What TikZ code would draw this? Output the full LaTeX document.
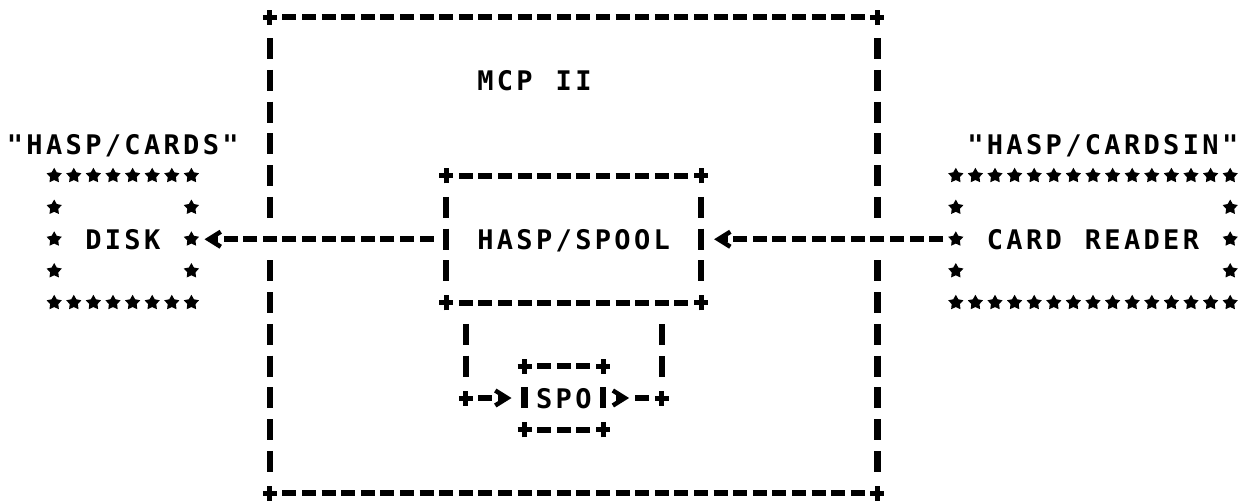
\documentclass[tikz,border=0pt]{standalone}
\usepackage{fontspec}
\usetikzlibrary{arrows.meta,calc}
\newfontfamily\lpfont{DejaVu Sans Mono}
\newcommand\spreadtxt[1]{\spreadloop#1\relax}
\def\spreadloop#1{\ifx\relax#1\else\makebox[19.6pt]{#1}\expandafter\spreadloop\fi}
% border of dashes and '!' marks with '+' corners, aligned to the character grid
\newcommand\dashborder[1]{%
  \draw[hdash] ([shift={(0.643,0)}]#1.north west) -- ([shift={(-0.643,0)}]#1.north east);
  \draw[hdash] ([shift={(0.643,0)}]#1.south west) -- ([shift={(-0.643,0)}]#1.south east);
  \draw[vdash] ([shift={(0,0.669)}]#1.north west) -- ([shift={(0,-0.669)}]#1.south west);
  \draw[vdash] ([shift={(0,0.669)}]#1.north east) -- ([shift={(0,-0.669)}]#1.south east);
  \foreach \c in {north west,north east,south west,south east} {\pic at (#1.\c) {plusmark};}
}
% border of stars: #2 = number of column steps, #3 = last inner row index
\newcommand\starborder[3]{%
  \foreach \i in {0,...,#2} {%
    \pic at ([shift={(\i,0)}]#1.north west) {starmark};
    \pic at ([shift={(\i,0)}]#1.south west) {starmark};}
  \foreach \j in {1,...,#3} {%
    \pic at ([shift={(0,\j)}]#1.north west) {starmark};
    \pic at ([shift={(0,\j)}]#1.north east) {starmark};}
}
\begin{document}
\begin{tikzpicture}[x=19.6pt, y=-31.75pt,
  hdash/.style={line width=6pt, dash pattern=on 14pt off 5.6pt},
  vdash/.style={line width=6.3pt, dash pattern=on 21pt off 10.75pt},
  txt/.style={inner sep=0pt, outer sep=0pt, text height=20pt, text depth=0pt,
    font=\lpfont\bfseries\fontsize{27pt}{27pt}\selectfont},
  chev/.style={-{Straight Barb[length=12pt,width=15pt,line width=4.5pt]}},
  plusmark/.pic={\draw[line width=5pt] (-7pt,0pt)--(7pt,0pt) (0pt,-7.5pt)--(0pt,7.5pt);},
  starmark/.pic={\fill (90:8pt) -- (126:4.3pt) -- (162:8pt) -- (198:4.3pt) -- (234:8pt)
    -- (270:4.3pt) -- (306:8pt) -- (342:4.3pt) -- (18:8pt) -- (54:4.3pt) -- cycle;}]
\useasboundingbox (-0.7653,-0.5354) rectangle (62.755,15.307);
\fill[white] (-0.7653,-0.5354) rectangle (62.755,15.307);

% nodes
\node[txt, minimum width=607.6pt, minimum height=476.25pt] (mcp) at (28.5,7.5) {};
\node[txt] (mcptitle) at (26.5,2) {\spreadtxt{MCP~II}};
\node[txt, minimum width=254.8pt, minimum height=127pt] (hasp) at (28.5,7) {\spreadtxt{HASP/SPOOL}};
\node[txt, minimum width=78.4pt, minimum height=63.5pt] (spo) at (28,12) {\spreadtxt{SPO}};
\node[txt, minimum width=137.2pt, minimum height=127pt] (disk) at (5.5,7) {\spreadtxt{DISK}};
\node[txt, minimum width=274.4pt, minimum height=127pt] (card) at (55,7) {\spreadtxt{CARD~READER}};
\node[txt] (disklabel) at (5.5,4) {\spreadtxt{"HASP/CARDS"}};
\node[txt] (cardlabel) at (55.5,4) {\spreadtxt{"HASP/CARDSIN"}};

% outer box (the '!' column is interrupted where the connectors cross it)
\draw[hdash] ([shift={(0.643,0)}]mcp.north west) -- ([shift={(-0.643,0)}]mcp.north east);
\draw[hdash] ([shift={(0.643,0)}]mcp.south west) -- ([shift={(-0.643,0)}]mcp.south east);
\foreach \s in {west,east} {
  \draw[vdash] ([shift={(0,0.669)}]mcp.north \s) -- ([shift={(0,6.331)}]mcp.north \s);
  \draw[vdash] ([shift={(0,7.669)}]mcp.north \s) -- ([shift={(0,-0.669)}]mcp.south \s);
}
\foreach \c in {north west,north east,south west,south east} {\pic at (mcp.\c) {plusmark};}

% inner boxes
\dashborder{hasp}
\dashborder{spo}
\starborder{disk}{7}{3}
\starborder{card}{14}{3}

% connectors
\draw[hdash, chev, shorten <=12.6pt, shorten >=13.1pt] (hasp.west) -- (disk.east);
\draw[hdash, chev, shorten <=12.6pt, shorten >=13.1pt] (card.west) -- (hasp.east);

% loop through SPO
\coordinate (lt) at ([shift={(1,0)}]hasp.south west);
\coordinate (lc) at (lt |- spo.west);
\draw[vdash] ([shift={(0,0.669)}]lt) -- ([shift={(0,-0.669)}]lc);
\draw[hdash, chev, shorten <=12.6pt, shorten >=13.1pt] (lc) -- (spo.west);
\pic at (lc) {plusmark};

\coordinate (rt) at ([shift={(-2,0)}]hasp.south east);
\coordinate (rc) at (rt |- spo.east);
\draw[chev, line width=6pt, shorten <=13.1pt, shorten >=32.7pt] (spo.east) -- (rc);
\draw[hdash, shorten <=12.6pt, shorten >=32.2pt] (rc) -- (spo.east);
\draw[vdash] ([shift={(0,-0.669)}]rc) -- ([shift={(0,0.669)}]rt);
\pic at (rc) {plusmark};
\end{tikzpicture}
\end{document}
